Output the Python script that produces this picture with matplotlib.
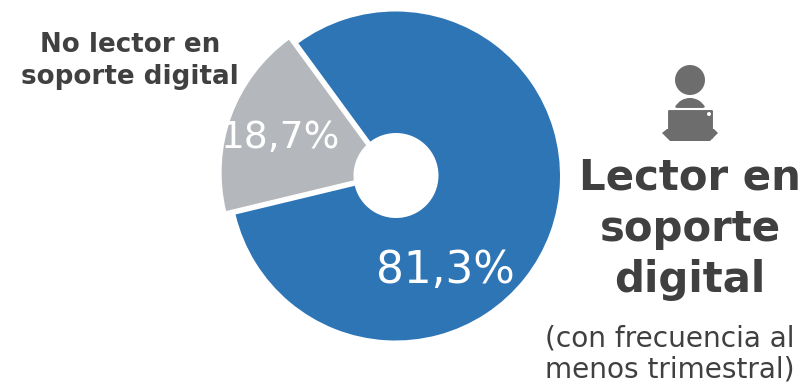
import matplotlib
matplotlib.use("Agg")
from matplotlib import pyplot as plt
from matplotlib.patches import Circle, FancyBboxPatch, Polygon, Wedge

values = [81.3, 18.7]
labels = ["81,3%", "18,7%"]
colors = ["#2e75b6", "#b4b7bb"]
dark = "#404040"

plt.rcParams["font.family"] = ["DejaVu Sans"]

fig = plt.figure(figsize=(8.05, 3.85), dpi=100)

# pie centered at (395.5, 176) px, r = 164.5 px, grey slice pulled out by 10 px
half = 180
ax = fig.add_axes([(395.5 - half) / 805, 1 - (176 + half) / 385, 2 * half / 805, 2 * half / 385])
ax.pie(values, colors=colors, startangle=126.2, counterclock=False, radius=164.5 / half,
       explode=[0, 10 / half])
ax.set_xlim(-1, 1)
ax.set_ylim(-1, 1)
ax.set_zorder(1)

# overlay in pixel coords for texts and icon
bg = fig.add_axes([0, 0, 1, 1])
bg.set_xlim(0, 805)
bg.set_ylim(385, 0)
bg.axis("off")
bg.set_zorder(2)

bg.add_patch(Circle((396, 175.5), 42.5, color="white", lw=0))

bg.text(445.5, 283, labels[0], color="white", fontsize=31.5, ha="center", va="baseline")
bg.text(281, 148, labels[1], color="white", fontsize=27, ha="center", va="baseline")

bg.text(130, 61, "No lector en\nsoporte digital", color=dark, fontsize=18.8, fontweight="bold",
        ha="center", va="center", linespacing=1.3)
bg.text(690, 229, "Lector en\nsoporte\ndigital", color=dark, fontsize=30.2, fontweight="bold",
        ha="center", va="center", linespacing=1.28)
bg.text(670, 354, "(con frecuencia al\nmenos trimestral)", color=dark, fontsize=20.2,
        ha="center", va="center", linespacing=1.18)

# person at laptop icon
icon = "#6d6d6d"
bg.add_patch(Circle((690, 80), 15, color=icon, lw=0))
bg.add_patch(Wedge((690, 115), 17, 208, 332, color=icon, lw=0))
bg.add_patch(FancyBboxPatch((667, 109), 47, 31, boxstyle="round,pad=0,rounding_size=2",
                            facecolor=icon, edgecolor="white", lw=1.5))
bg.add_patch(Polygon([(667, 129), (662, 133), (670, 141), (710, 141), (718, 133), (714, 129)], color=icon, lw=0))
bg.add_patch(Circle((709, 114), 2, color="white", lw=0))

fig.savefig("out.png", dpi=100)
